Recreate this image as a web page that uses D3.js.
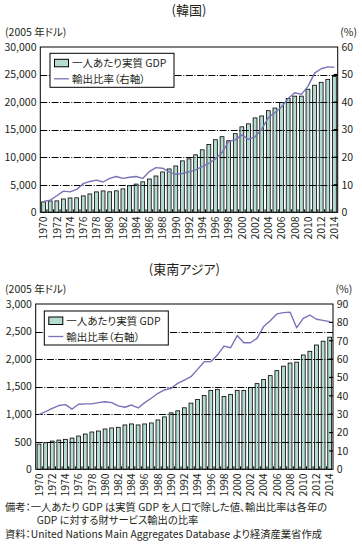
<!DOCTYPE html>
<html>
<head>
<meta charset="utf-8">
<script src="https://cdn.jsdelivr.net/npm/d3@7"></script>
<style>
body { margin: 0; background: #fff; }
svg { font-family: "Noto Sans CJK JP", "Noto Sans", sans-serif; font-feature-settings: "palt"; }
</style>
</head>
<body>
<svg id="chart" width="362" height="544"></svg>
<script>
// categories
var years = [1970, 1971, 1972, 1973, 1974, 1975, 1976, 1977, 1978, 1979,
  1980, 1981, 1982, 1983, 1984, 1985, 1986, 1987, 1988, 1989,
  1990, 1991, 1992, 1993, 1994, 1995, 1996, 1997, 1998, 1999,
  2000, 2001, 2002, 2003, 2004, 2005, 2006, 2007, 2008, 2009,
  2010, 2011, 2012, 2013, 2014];
var yearLabels = [1970, 1972, 1974, 1976, 1978, 1980, 1982, 1984, 1986, 1988, 1990,
  1992, 1994, 1996, 1998, 2000, 2002, 2004, 2006, 2008, 2010, 2012, 2014];

// Korea : real GDP per capita (2005 USD) and export ratio (%)
var korGdp = [1890, 2060, 2070, 2420, 2600, 2630, 2980, 3330, 3700, 3880,
  3720, 3900, 4250, 4820, 5120, 5530, 6040, 6590, 7320, 7870,
  8410, 9330, 9700, 10430, 11340, 12320, 13170, 13720, 12990, 14270,
  15510, 16050, 17130, 17480, 18440, 18920, 19940, 20660, 21080, 21080,
  22340, 23060, 23590, 24130, 24670];
var korExport = [3.9, 4.4, 6.0, 7.7, 7.4, 8.3, 10.4, 11.2, 11.7, 11.0,
  12.3, 13.0, 12.3, 12.7, 13.0, 12.3, 14.8, 16.2, 16.0, 14.7,
  13.8, 14.1, 14.7, 15.4, 16.6, 17.8, 19.4, 21.7, 25.7, 26.3,
  28.1, 26.5, 27.4, 30.2, 34.4, 36.2, 38.2, 41.3, 43.4, 42.8,
  45.7, 50.5, 52.1, 52.8, 52.6];

// South-East Asia
var seaGdp = [457, 482, 512, 530, 543, 567, 604, 640, 677, 695,
  732, 750, 762, 805, 823, 805, 823, 841, 896, 951,
  1024, 1061, 1116, 1201, 1268, 1341, 1433, 1451, 1323, 1360,
  1433, 1433, 1486, 1555, 1632, 1700, 1790, 1872, 1928, 1945,
  2075, 2142, 2256, 2325, 2398];
var seaExport = [29.8, 31.4, 33.2, 34.7, 35.2, 32.8, 35.4, 35.6, 35.6, 36.3,
  36.8, 36.3, 34.5, 33.8, 35.0, 33.4, 36.3, 38.7, 41.4, 43.2,
  44.1, 46.8, 48.6, 50.4, 54.4, 58.6, 58.6, 62.2, 67.1, 66.2,
  72.8, 68.9, 68.9, 71.3, 77.7, 80.9, 84.6, 85.3, 85.6, 77.1,
  82.2, 84.0, 81.7, 81.1, 80.4];

// tick values
var korLeftTicks = [0, 5000, 10000, 15000, 20000, 25000, 30000];
var korRightTicks = [0, 10, 20, 30, 40, 50, 60];
var seaLeftTicks = [0, 500, 1000, 1500, 2000, 2500, 3000];
var seaRightTicks = [0, 10, 20, 30, 40, 50, 60, 70, 80, 90];

var legendLabels = ["一人あたり実質 GDP", "輸出比率（右軸）"];
var notes = ["備考：一人あたり GDP は実質 GDP を人口で除した値、輸出比率は各年の",
  "GDP に対する財サービス輸出の比率",
  "資料：United Nations Main Aggregates Database より経済産業省作成"];

var barFill = "#b5dcd2";
var lineColor = "#7a72b8";
var ink = "#231f20";

var svg = d3.select("#chart");

function drawPanel(o) {
  var g = svg.append("g");
  var x = d3.scaleBand().domain(years).range([o.left, o.right])
      .paddingInner(0.42).paddingOuter(0.21);
  var y = d3.scaleLinear().domain([0, d3.max(o.leftTicks)]).range([o.bottom, o.top]);
  var y2 = d3.scaleLinear().domain([0, d3.max(o.rightTicks)]).range([o.bottom, o.top]);
  var step = x.step();

  // title
  g.append("text").attr("x", (o.left + o.right) / 2).attr("y", o.titleY)
    .attr("text-anchor", "middle").attr("font-size", 13).attr("fill", ink)
    .text(o.title);
  // unit labels
  g.append("text").attr("x", 5).attr("y", o.top - 10.8)
    .attr("font-size", 10.5).attr("fill", ink).text("(2005 年ドル)");
  g.append("text").attr("x", o.right + 2.5).attr("y", o.top - 10.8)
    .attr("font-size", 10.5).attr("fill", ink).text("(%)");

  // bars
  g.selectAll(".bar").data(o.gdp).enter().append("rect")
    .attr("x", function(d, i) { return x(years[i]); })
    .attr("y", function(d) { return y(d); })
    .attr("width", x.bandwidth())
    .attr("height", function(d) { return o.bottom - y(d); })
    .attr("fill", barFill)
    .attr("stroke", "#000")
    .attr("stroke-width", 0.8);

  // grid lines (dash-dot)
  g.selectAll(".grid").data(o.leftTicks.slice(1, -1)).enter().append("line")
    .attr("x1", o.left).attr("x2", o.right)
    .attr("y1", function(d) { return Math.round(y(d)) + 0.5; })
    .attr("y2", function(d) { return Math.round(y(d)) + 0.5; })
    .attr("stroke", "#000").attr("stroke-width", 1)
    .attr("stroke-dasharray", "7,1.6,1,1.6");

  // small bottom ticks between bars
  g.selectAll(".xtick").data(years.slice(1)).enter().append("line")
    .attr("x1", function(d) { return x(d) - step * 0.21; })
    .attr("x2", function(d) { return x(d) - step * 0.21; })
    .attr("y1", o.bottom).attr("y2", o.bottom - 3)
    .attr("stroke", "#000").attr("stroke-width", 1);

  // right axis inner ticks
  g.selectAll(".rtick").data(o.rightTicks.slice(1, -1)).enter().append("line")
    .attr("x1", o.right).attr("x2", o.right - 4)
    .attr("y1", function(d) { return y2(d); })
    .attr("y2", function(d) { return y2(d); })
    .attr("stroke", "#000").attr("stroke-width", 1.2);

  // export ratio line
  var lineGen = d3.line()
    .x(function(d, i) { return x(years[i]) + x.bandwidth() / 2; })
    .y(function(d) { return y2(d); });
  g.append("path").datum(o.ratio).attr("d", lineGen)
    .attr("fill", "none").attr("stroke", lineColor)
    .attr("stroke-width", 1.4).attr("stroke-linejoin", "round");

  // frame
  g.append("rect").attr("x", o.left).attr("y", o.top)
    .attr("width", o.right - o.left).attr("height", o.bottom - o.top)
    .attr("fill", "none").attr("stroke", "#000").attr("stroke-width", 1);

  // left tick labels
  g.selectAll(".ylab").data(o.leftTicks).enter().append("text")
    .attr("x", o.left - 3.8).attr("y", function(d) { return y(d); })
    .attr("dy", "0.36em").attr("text-anchor", "end")
    .attr("font-size", 10.5).attr("fill", ink)
    .text(d3.format(","));
  // right tick labels
  g.selectAll(".y2lab").data(o.rightTicks).enter().append("text")
    .attr("x", o.right + 3.8).attr("y", function(d) { return y2(d); })
    .attr("dy", "0.36em")
    .attr("font-size", 10.5).attr("fill", ink)
    .text(function(d) { return d; });

  // year labels, rotated
  g.selectAll(".xlab").data(yearLabels).enter().append("text")
    .attr("transform", function(d) {
      return "translate(" + (x(d) + x.bandwidth() / 2) + "," + (o.bottom + 4) + ") rotate(-90)";
    })
    .attr("dy", "0.36em").attr("text-anchor", "end")
    .attr("font-size", 10.5).attr("fill", ink)
    .text(function(d) { return d; });

  // legend
  var lg = g.append("g").attr("transform", "translate(" + o.legX + "," + o.legY + ")");
  lg.append("rect").attr("width", 124).attr("height", 34)
    .attr("fill", "#fff").attr("stroke", "#000").attr("stroke-width", 1);
  lg.append("rect").attr("x", 4.5).attr("y", 6).attr("width", 14).attr("height", 7.5)
    .attr("fill", barFill).attr("stroke", "#000").attr("stroke-width", 1);
  lg.append("line").attr("x1", 4).attr("x2", 19).attr("y1", 25.5).attr("y2", 25.5)
    .attr("stroke", lineColor).attr("stroke-width", 1.3);
  lg.selectAll(".legtext").data(legendLabels).enter().append("text")
    .attr("x", 22).attr("y", function(d, i) { return 9.8 + i * 16; })
    .attr("dy", "0.36em").attr("font-size", 10.5).attr("fill", ink)
    .text(function(d) { return d; });
}

drawPanel({ title: "(韓国)", titleY: 15, left: 40.3, right: 337.7, top: 47, bottom: 212.3,
  gdp: korGdp, ratio: korExport, leftTicks: korLeftTicks, rightTicks: korRightTicks,
  legX: 50, legY: 53.3 });
drawPanel({ title: "(東南アジア)", titleY: 274, left: 35.7, right: 333, top: 304, bottom: 469.3,
  gdp: seaGdp, ratio: seaExport, leftTicks: seaLeftTicks, rightTicks: seaRightTicks,
  legX: 44.3, legY: 311 });

// notes
svg.selectAll(".note").data(notes).enter().append("text")
  .attr("x", function(d, i) { return i == 1 ? 36.7 : 5; })
  .attr("y", function(d, i) { return 510.5 + i * 13.5; })
  .attr("font-size", 10.3).attr("fill", ink)
  .text(function(d) { return d; });
</script>
</body>
</html>
